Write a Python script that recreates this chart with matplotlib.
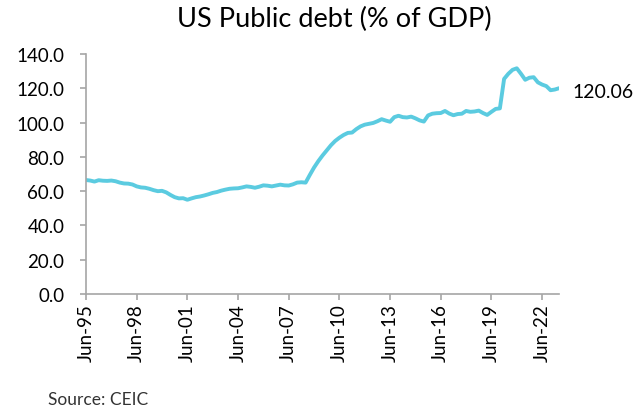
import matplotlib
matplotlib.use("Agg")
import matplotlib.pyplot as plt

# quarterly, Jun-95 .. Jun-23
start_year = 1995
debt_pct = [
    66.5, 66.2, 65.6, 66.4, 66.1, 66.0, 66.2, 65.8, 65.0, 64.5, 64.4, 63.9,
    62.8, 62.2, 62.0, 61.4, 60.6, 60.0, 60.2, 59.3, 57.8, 56.5, 55.8, 55.9,
    55.0, 55.8, 56.5, 56.9, 57.5, 58.2, 59.0, 59.5, 60.3, 60.9, 61.4, 61.6,
    61.7, 62.2, 62.8, 62.5, 62.0, 62.6, 63.4, 63.2, 62.8, 63.3, 63.8, 63.4,
    63.3, 64.0, 65.0, 65.2, 65.0, 69.5, 73.8, 77.5, 80.8, 83.8, 86.8, 89.3,
    91.2, 92.8, 94.0, 94.2, 96.2, 97.8, 98.8, 99.3, 99.8, 100.8, 102.0, 101.2,
    100.5, 103.2, 104.0, 103.2, 103.0, 103.5, 102.5, 101.3, 100.6, 104.2, 105.2, 105.5,
    105.6, 106.8, 105.3, 104.3, 105.0, 105.2, 106.8, 106.3, 106.5, 107.0, 105.6, 104.5,
    106.3, 108.0, 108.3, 125.5, 128.5, 130.8, 131.7, 128.5, 125.0, 126.2, 126.5, 123.5,
    122.2, 121.3, 118.9, 119.3, 120.06,
]
last_label = "120.06"
y_ticks = [0, 20, 40, 60, 80, 100, 120, 140]

x = list(range(len(debt_pct)))
tick_pos = list(range(0, len(debt_pct), 12))
tick_labels = ["Jun-%02d" % ((start_year + p // 4) % 100) for p in tick_pos]

plt.rcParams['font.family'] = ['Lato', 'DejaVu Sans']

fig = plt.figure(figsize=(6.39, 4.14), dpi=100)
ax = fig.add_axes([0.1346, 0.2874, 0.7402, 0.5796])

ax.plot(x, debt_pct, color='#5BCBE0', linewidth=2.8, solid_capstyle='round',
        solid_joinstyle='round')

ax.set_xlim(0, len(debt_pct) - 1)
ax.set_ylim(0, 140)
ax.set_yticks(y_ticks)
ax.set_yticklabels(["%.1f" % v for v in y_ticks], fontsize=13.5)
ax.set_xticks(tick_pos)
ax.set_xticklabels(tick_labels, rotation=90, fontsize=13.5)

for side in ['top', 'right']:
    ax.spines[side].set_visible(False)
for side in ['left', 'bottom']:
    ax.spines[side].set_color('#A6A6A6')
    ax.spines[side].set_linewidth(1.2)
ax.tick_params(axis='both', colors='#A6A6A6', length=4.5, width=1.2,
               labelcolor='black')
ax.tick_params(axis='y', pad=11)
ax.tick_params(axis='x', pad=2)

# value label next to last point
ax.annotate(last_label, xy=(x[-1], debt_pct[-1]), xytext=(10, -2),
            textcoords='offset points', va='center', ha='left', fontsize=14,
            annotation_clip=False)

fig.text(0.523, 0.952, "US Public debt (% of GDP)", ha='center', va='center',
         fontsize=19.5)
fig.text(0.075, 0.033, "Source: CEIC", ha='left', va='center', fontsize=12.5,
         color='#333333')

fig.savefig("out.png", dpi=100)
